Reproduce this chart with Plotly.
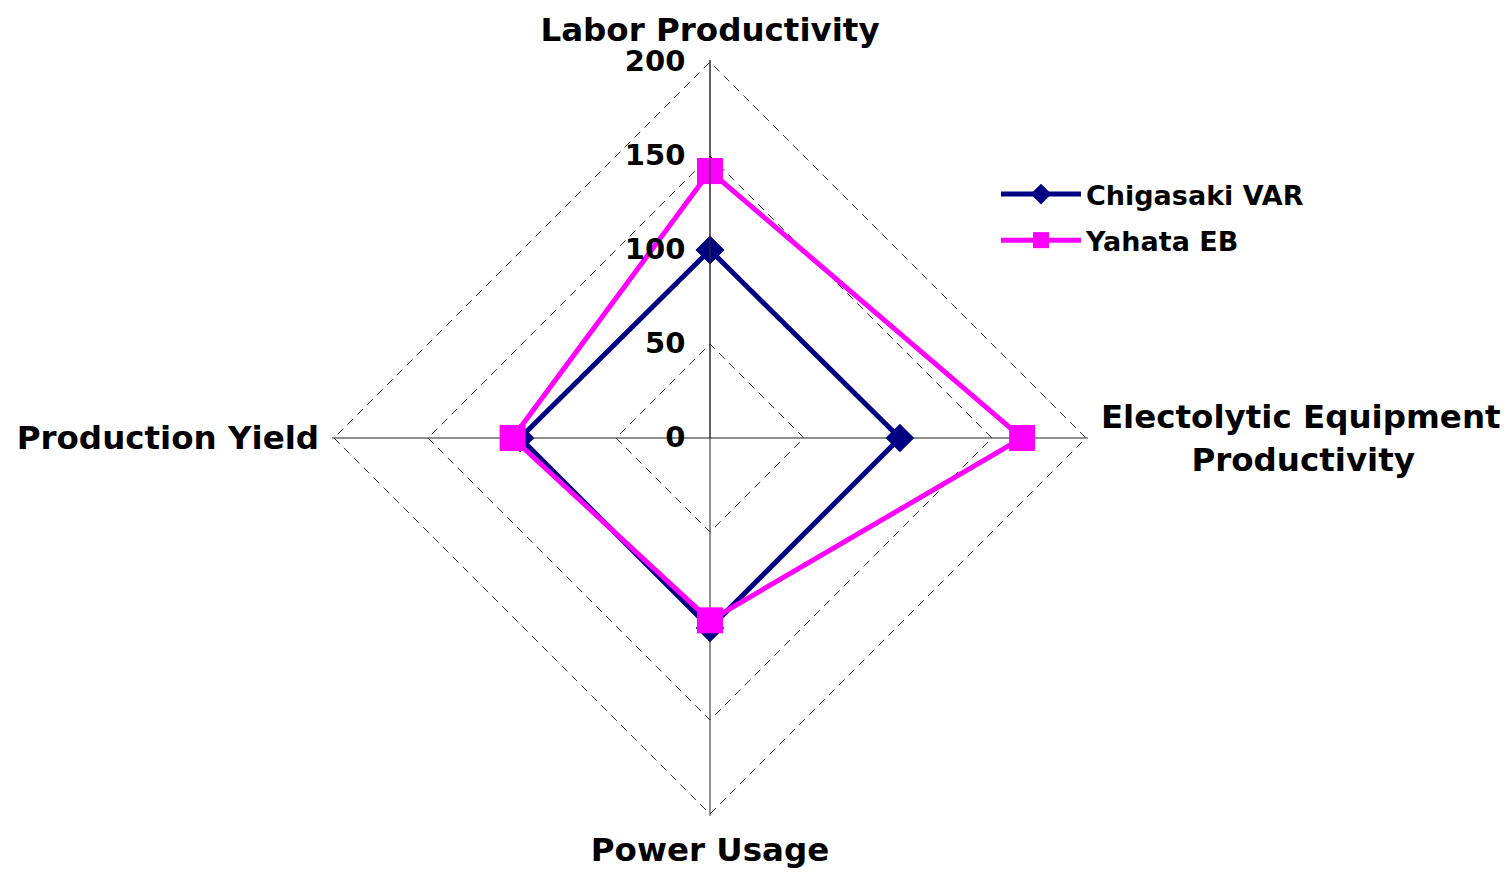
import plotly.graph_objects as go

NB = "\u00a0" * 8
categories = ["Labor Productivity", "Electolytic Equipment<br>" + NB + "Productivity", "Power Usage", "Production Yield"]
chigasaki = [100, 101, 101, 101]
yahata = [142, 166, 97, 105]
radial_ticks = [0, 50, 100, 150, 200]

FONT = "DejaVu Sans"

fig = go.Figure()
fig.add_trace(go.Scatterpolar(
    r=chigasaki + chigasaki[:1], theta=categories + categories[:1],
    mode="lines+markers", name="Chigasaki VAR", legendgroup="a",
    line=dict(color="#000080", width=5),
    marker=dict(symbol="diamond", size=22, color="#000080"),
))
fig.add_trace(go.Scatterpolar(
    r=yahata + yahata[:1], theta=categories + categories[:1],
    mode="lines+markers", name="Yahata EB", legendgroup="b",
    line=dict(color="#FF00FF", width=5),
    marker=dict(symbol="square", size=26, color="#FF00FF"),
))

# page body has an 8px margin; figure is sized to fill the rest of the viewport
W, H = 1503, 865
cx, cy = 702, 430
RMAX = 201
R = 376 * RMAX / 200
fig.update_layout(
    width=W, height=H,
    margin=dict(l=0, r=0, t=0, b=0),
    paper_bgcolor="white", plot_bgcolor="white",
    font=dict(family=FONT, color="black"),
    polar=dict(
        domain=dict(x=[(cx - R) / W, (cx + R) / W], y=[(H - cy - R) / H, (H - cy + R) / H]),
        gridshape="linear",
        bgcolor="white",
        radialaxis=dict(
            range=[0, RMAX], tickvals=radial_ticks, angle=90, tickangle=90,
            side="counterclockwise",
            showline=True, linecolor="#333", linewidth=1,
            gridcolor="#333", griddash="8px,6px", gridwidth=1,
            ticks="outside", ticklen=14, tickcolor="rgba(0,0,0,0)",
            tickfont=dict(family=FONT, size=29, color="black", weight="bold"),
        ),
        angularaxis=dict(
            direction="clockwise", rotation=90,
            showline=False, gridcolor="#222", gridwidth=1,
            ticks="outside", ticklen=6, tickcolor="rgba(0,0,0,0)",
            tickfont=dict(family=FONT, size=32.5, color="black", weight="bold"),
        ),
    ),
    legend=dict(
        x=988 / W, y=1 - 162 / H, xanchor="left", yanchor="top",
        font=dict(family=FONT, size=27, color="black", weight="bold"),
        bgcolor="rgba(0,0,0,0)", itemwidth=80, tracegroupgap=8,
    ),
)

fig.write_html("out.html")
